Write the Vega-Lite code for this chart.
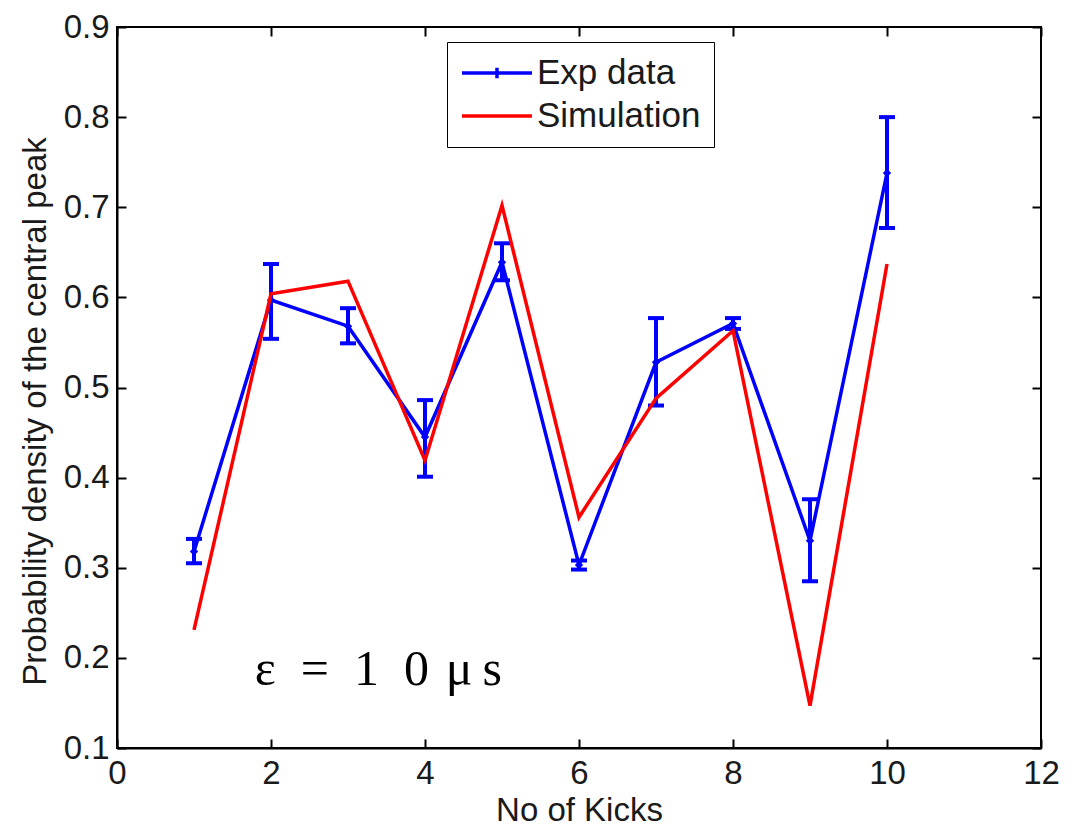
{
  "$schema": "https://vega.github.io/schema/vega-lite/v6.json",
  "width": 924,
  "height": 721,
  "autosize": {"type": "none"},
  "padding": {"left": 117, "top": 27, "right": 38, "bottom": 79},
  "background": "white",
  "config": {
    "view": {"stroke": "black", "strokeWidth": 2},
    "font": "Liberation Sans",
    "axis": {
      "grid": false,
      "domainColor": "black",
      "domainWidth": 2,
      "tickColor": "black",
      "tickWidth": 2,
      "tickSize": -9,
      "labelFlush": false,
      "labelFont": "Liberation Sans",
      "labelFontSize": 33,
      "labelColor": "#1a1a1a",
      "titleFont": "Liberation Sans",
      "titleFontSize": 33,
      "titleFontWeight": "normal",
      "titleColor": "#1a1a1a"
    }
  },
  "datasets": {
    "exp": [
      {"kicks": 1, "p": 0.318, "lo": 0.305, "hi": 0.332, "series": "Exp data"},
      {"kicks": 2, "p": 0.597, "lo": 0.554, "hi": 0.637, "series": "Exp data"},
      {"kicks": 3, "p": 0.568, "lo": 0.549, "hi": 0.588, "series": "Exp data"},
      {"kicks": 4, "p": 0.445, "lo": 0.401, "hi": 0.486, "series": "Exp data"},
      {"kicks": 5, "p": 0.639, "lo": 0.619, "hi": 0.660, "series": "Exp data"},
      {"kicks": 6, "p": 0.303, "lo": 0.298, "hi": 0.308, "series": "Exp data"},
      {"kicks": 7, "p": 0.528, "lo": 0.480, "hi": 0.577, "series": "Exp data"},
      {"kicks": 8, "p": 0.571, "lo": 0.565, "hi": 0.577, "series": "Exp data"},
      {"kicks": 9, "p": 0.330, "lo": 0.285, "hi": 0.376, "series": "Exp data"},
      {"kicks": 10, "p": 0.738, "lo": 0.677, "hi": 0.800, "series": "Exp data"}
    ],
    "sim": [
      {"kicks": 1, "p": 0.231, "series": "Simulation"},
      {"kicks": 2, "p": 0.604, "series": "Simulation"},
      {"kicks": 3, "p": 0.618, "series": "Simulation"},
      {"kicks": 4, "p": 0.419, "series": "Simulation"},
      {"kicks": 5, "p": 0.702, "series": "Simulation"},
      {"kicks": 6, "p": 0.356, "series": "Simulation"},
      {"kicks": 7, "p": 0.488, "series": "Simulation"},
      {"kicks": 8, "p": 0.563, "series": "Simulation"},
      {"kicks": 9, "p": 0.147, "series": "Simulation"},
      {"kicks": 10, "p": 0.637, "series": "Simulation"}
    ],
    "note": [{"label": "ε\u2002=\u20021\u20020\u2004μ\u2009s"}]
  },
  "resolve": {"axis": {"x": "independent", "y": "independent"}},
  "layer": [
    {
      "data": {"name": "exp"},
      "mark": {"type": "line", "strokeWidth": 3.5},
      "encoding": {
        "x": {
          "field": "kicks", "type": "quantitative",
          "scale": {"domain": [0, 12], "nice": false, "zero": false},
          "axis": {"orient": "bottom", "values": [0, 2, 4, 6, 8, 10, 12], "format": "d", "labelPadding": 18, "title": "No of Kicks", "titleFontSize": 33, "titleY": 62, "titleBaseline": "middle", "titleAlign": "center"}
        },
        "y": {
          "field": "p", "type": "quantitative",
          "scale": {"domain": [0.1, 0.9], "nice": false, "zero": false},
          "axis": {"orient": "left", "values": [0.1, 0.2, 0.3, 0.4, 0.5, 0.6, 0.7, 0.8, 0.9], "format": ".1f", "labelPadding": 17, "title": "Probability density of the central peak", "titleX": -82, "titleY": 384, "titleAngle": -90, "titleAlign": "center", "titleBaseline": "middle"}
        },
        "color": {
          "field": "series", "type": "nominal",
          "scale": {"domain": ["Exp data", "Simulation"], "range": ["#0000ff", "#ff0000"]},
          "legend": {
            "title": null,
            "orient": "none",
            "legendX": 330,
            "legendY": 15,
            "strokeColor": "black",
            "fillColor": "white",
            "padding": 13,
            "symbolSize": 4900,
            "symbolStrokeWidth": 3.5,
            "symbolType": "stroke",
            "clipHeight": 36,
            "rowPadding": 7,
            "labelOffset": 3,
            "labelLimit": 400,
            "labelFont": "Liberation Sans",
            "labelFontSize": 35,
            "labelColor": "#1a1a1a",
            "encode": {
              "symbols": {
                "update": {
                  "shape": {"signal": "datum.value === 'Exp data' ? 'M-1,0H1M0,-0.15V0.15' : 'M-1,0H1'"}
                }
              }
            }
          }
        }
      }
    },
    {
      "data": {"name": "exp"},
      "mark": {"type": "rule", "color": "#0000ff", "strokeWidth": 4},
      "encoding": {
        "x": {"field": "kicks", "type": "quantitative", "axis": null},
        "y": {"field": "lo", "type": "quantitative", "axis": null},
        "y2": {"field": "hi"}
      }
    },
    {
      "data": {"name": "exp"},
      "mark": {"type": "tick", "orient": "horizontal", "color": "#0000ff", "size": 16, "thickness": 4, "opacity": 1},
      "encoding": {
        "x": {"field": "kicks", "type": "quantitative", "axis": null},
        "y": {"field": "lo", "type": "quantitative", "axis": null}
      }
    },
    {
      "data": {"name": "exp"},
      "mark": {"type": "tick", "orient": "horizontal", "color": "#0000ff", "size": 16, "thickness": 4, "opacity": 1},
      "encoding": {
        "x": {"field": "kicks", "type": "quantitative", "axis": null},
        "y": {"field": "hi", "type": "quantitative", "axis": null}
      }
    },
    {
      "data": {"name": "exp"},
      "mark": {"type": "point", "shape": "diamond", "filled": true, "color": "#0000ff", "size": 70, "opacity": 1},
      "encoding": {
        "x": {"field": "kicks", "type": "quantitative", "axis": null},
        "y": {"field": "p", "type": "quantitative", "axis": null}
      }
    },
    {
      "data": {"name": "sim"},
      "mark": {"type": "line", "strokeWidth": 3.5},
      "encoding": {
        "x": {"field": "kicks", "type": "quantitative", "axis": null},
        "y": {"field": "p", "type": "quantitative", "axis": null},
        "color": {"field": "series", "type": "nominal"}
      }
    },
    {
      "data": {"name": "note"},
      "mark": {"type": "text", "font": "Liberation Serif", "fontSize": 50, "fontStyle": "normal", "align": "left", "baseline": "alphabetic", "color": "black"},
      "encoding": {
        "x": {"datum": 1.79, "type": "quantitative", "axis": {"orient": "top", "labels": false, "domain": false, "title": null, "values": [0, 2, 4, 6, 8, 10, 12]}},
        "y": {"datum": 0.17, "type": "quantitative", "axis": {"orient": "right", "labels": false, "domain": false, "title": null, "values": [0.1, 0.2, 0.3, 0.4, 0.5, 0.6, 0.7, 0.8, 0.9]}},
        "text": {"field": "label"}
      }
    }
  ]
}
